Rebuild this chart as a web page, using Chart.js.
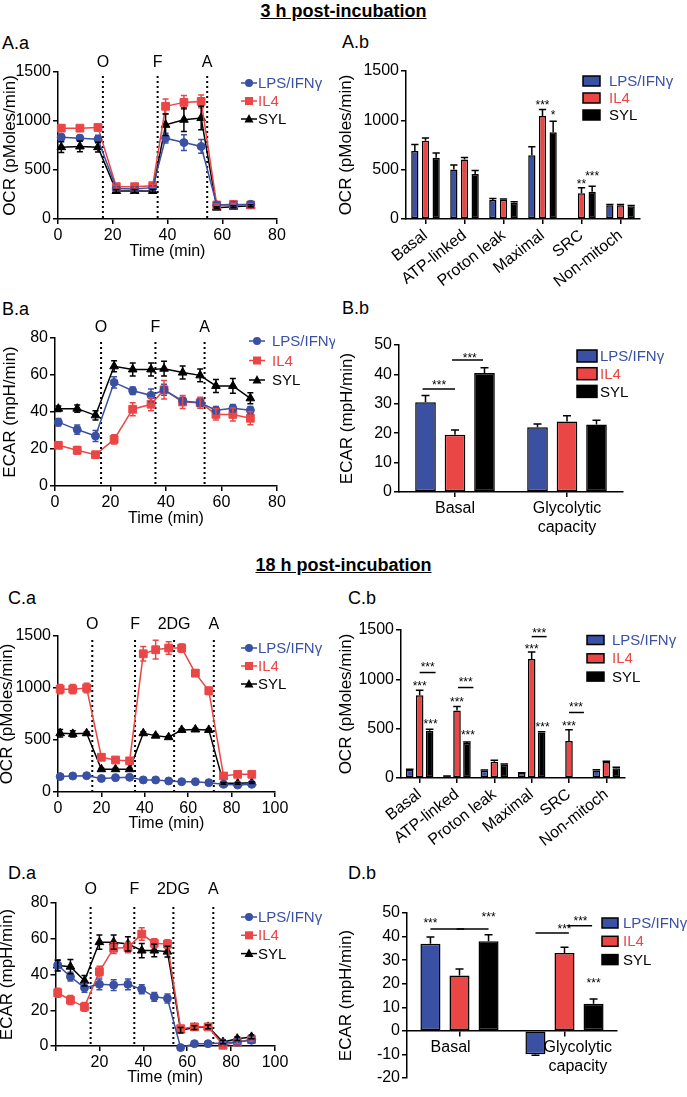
<!DOCTYPE html>
<html>
<head>
<meta charset="utf-8">
<script src="https://cdn.jsdelivr.net/npm/chart.js@4.4.1/dist/chart.umd.min.js"></script>
<style>
  body { margin: 0; background: #fff; }
  #fig { position: relative; width: 687px; height: 1097px; overflow: hidden; font-family: 'Liberation Sans', Arial, sans-serif; color: #000; }
  #fig canvas { position: absolute; }
  .head { position: absolute; left: 0; width: 687px; text-align: center; font-weight: bold; font-size: 18px; line-height: 21px; text-decoration: underline; }
  .lab { position: absolute; font-size: 18px; line-height: 20px; }
</style>
</head>
<body>
<div id="fig">
  <div class="head" style="top:1px">3 h post-incubation</div>
  <div class="head" style="top:555px">18 h post-incubation</div>
  <div class="lab" style="left:2px;top:33px">A.a</div>
  <div class="lab" style="left:342px;top:32px">A.b</div>
  <div class="lab" style="left:2px;top:299px">B.a</div>
  <div class="lab" style="left:342px;top:298px">B.b</div>
  <div class="lab" style="left:8px;top:588px">C.a</div>
  <div class="lab" style="left:348px;top:588px">C.b</div>
  <div class="lab" style="left:8px;top:863px">D.a</div>
  <div class="lab" style="left:348px;top:863px">D.b</div>
  <canvas id="aa"></canvas>
  <canvas id="ab"></canvas>
  <canvas id="ba"></canvas>
  <canvas id="bb"></canvas>
  <canvas id="ca"></canvas>
  <canvas id="cb"></canvas>
  <canvas id="da"></canvas>
  <canvas id="db"></canvas>
</div>
<script>
const BLUE = '#3a50a3', RED = '#eb4646', BLACK = '#000000';
const FONT = "'Liberation Sans', Arial, sans-serif";
const groups = ['LPS/IFNγ', 'IL4', 'SYL'];
const groupText = [BLUE, RED, BLACK];

// ---- 3 h: kinetics (A.a OCR, B.a ECAR)
const time3h = [1.2, 8, 14.6, 21.3, 28, 34.6, 39.3, 46, 52.3, 58, 64.1, 70.4];
const injA = [16.4, 36.4, 54.5];
const injB = [16.6, 36.2, 53.9];
const injLabels3h = ['O', 'F', 'A'];

const ocr3hLps = [835, 825, 815, 310, 305, 320, 825, 780, 740, 143, 143, 150];
const ocr3hIl4 = [927, 927, 934, 330, 330, 340, 1150, 1190, 1200, 143, 150, 143];
const ocr3hSyl = [733, 740, 733, 286, 286, 286, 961, 1013, 1030, 116, 126, 136];
const ocr3hLpsErr = [30, 30, 40, 15, 15, 15, 50, 80, 70, 10, 10, 10];
const ocr3hIl4Err = [30, 25, 25, 15, 15, 15, 75, 70, 65, 10, 10, 10];
const ocr3hSylErr = [55, 55, 50, 15, 15, 15, 110, 120, 120, 10, 10, 10];

const ecar3hLps = [34.5, 30.5, 27, 56, 51.5, 49, 52, 46, 45, 41, 42, 41];
const ecar3hIl4 = [22, 19.3, 16.9, 25.2, 41.5, 44.2, 52, 45.4, 45, 38.7, 38.7, 36.6];
const ecar3hSyl = [41.8, 41.8, 38.2, 64.7, 63, 63, 63.4, 61.3, 59.8, 54.1, 54.1, 47.4];
const ecar3hLpsErr = [2, 2.5, 3, 3, 2, 3.5, 3, 2, 2, 2, 2, 2];
const ecar3hIl4Err = [1.5, 2, 1.5, 2.5, 3.5, 3.5, 5, 3.5, 3, 3, 3.5, 3.5];
const ecar3hSylErr = [1.5, 2, 2.5, 3, 3.5, 3.5, 4, 3.5, 3.5, 3.5, 4, 3];

// ---- 3 h: summaries (A.b OCR, B.b ECAR)
const ocrCats = ['Basal', 'ATP-linked', 'Proton leak', 'Maximal', 'SRC', 'Non-mitoch'];
const ocrBar3hLps = [690, 502, 192, 647, 3, 140];
const ocrBar3hIl4 = [792, 603, 195, 1045, 260, 140];
const ocrBar3hSyl = [620, 455, 165, 880, 275, 130];
const ocrBar3hLpsErr = [65, 45, 17, 85, 0, 7];
const ocrBar3hIl4Err = [30, 20, 7, 65, 57, 8];
const ocrBar3hSylErr = [50, 37, 10, 110, 57, 7];
const ocrBar3hStars = [[3, 1, 1186, '***'], [3, 2, 1085, '*'], [4, 1, 388, '**'], [4, 2, 469, '***']];

const ecarCats3h = ['Basal', ['Glycolytic', 'capacity']];
const ecarBar3hLps = [30.5, 22];
const ecarBar3hIl4 = [19.5, 24];
const ecarBar3hSyl = [40.5, 23];
const ecarBar3hLpsErr = [2.3, 1.1];
const ecarBar3hIl4Err = [1.6, 1.9];
const ecarBar3hSylErr = [1.8, 1.4];
const ecarBar3hLines = [[0, -0.1, 1, 35], [0, 0.9, 1.95, 44.9]];
const ecarBar3hStars = [[0, 0.46, 37.5, '***'], [0, 1.5, 46.6, '***']];

// ---- 18 h: kinetics (C.a OCR, D.a ECAR)
const time18h = [1, 6.8, 13.2, 20, 26.5, 33, 39.3, 45, 51, 57, 63.3, 69.5, 76.3, 82.8, 89.3];
const injC = [15.8, 35.5, 53.5, 71.8];
const injD = [16.0, 35.9, 53.7, 71.9];
const injLabels18h = ['O', 'F', '2DG', 'A'];

const ocr18hLps = [148, 154, 157, 130, 138, 141, 116, 116, 106, 99, 99, 90, 74, 67, 74];
const ocr18hIl4 = [989, 989, 1000, 334, 308, 299, 1329, 1368, 1384, 1384, 1143, 973, 154, 170, 170];
const ocr18hSyl = [565, 559, 565, 219, 219, 219, 565, 542, 527, 597, 601, 597, 83, 83, 90];
const ocr18hLpsErr = [8, 8, 8, 8, 8, 8, 8, 8, 8, 8, 8, 8, 8, 8, 8];
const ocr18hIl4Err = [45, 45, 45, 15, 10, 10, 70, 90, 60, 40, 30, 35, 8, 8, 8];
const ocr18hSylErr = [35, 30, 15, 10, 10, 10, 15, 10, 10, 10, 10, 10, 8, 8, 8];

const ecar18hLps = [45.3, 38.8, 32.6, 34.5, 34.1, 34.5, 31.7, 27.5, 26.6, -0.9, 1.3, 1.3, 1.7, 2.2, 3.2];
const ecar18hIl4 = [29.8, 25.7, 21.9, 41.6, 54.7, 55.1, 62.6, 57.5, 57.0, 9.7, 10.7, 10.7, 0.4, 2.2, 3.6];
const ecar18hSyl = [45, 44.4, 36.5, 58.1, 58.1, 57.1, 53.4, 53.4, 52.8, 8.8, 10.3, 10.7, 2.2, 4.1, 5.1];
const ecar18hLpsErr = [3, 2.5, 2.5, 3, 3, 3, 2.5, 2.5, 2.5, 1, 1, 1, 1, 1, 1];
const ecar18hIl4Err = [2.5, 2.5, 2.5, 3, 3, 3, 3.5, 2.5, 2.5, 1.5, 1, 1, 1, 1, 1];
const ecar18hSylErr = [3, 4, 3, 4, 4, 4, 4, 3.5, 3, 1.5, 1, 1, 1, 1, 1];

// ---- 18 h: summaries (C.b OCR, D.b ECAR)
const ocrBar18hLps = [84, 17, 74, 50, 0, 77];
const ocrBar18hIl4 = [839, 684, 165, 1207, 374, 162];
const ocrBar18hSyl = [479, 354, 135, 462, 3, 100];
const ocrBar18hLpsErr = [5, 3, 6, 4, 0, 6];
const ocrBar18hIl4Err = [50, 40, 15, 70, 115, 8];
const ocrBar18hSylErr = [15, 12, 6, 8, 0, 10];
const ocrBar18hLines = [[0, 1, 2.6, 1069], [1, 1.1, 2.65, 917], [3, 1, 2.5, 1433], [4, 1, 2.5, 664]];
const ocrBar18hStars = [
  [0, 1, 967, '***'], [0, 2.1, 573, '***'], [0, 1.8, 1156, '***'],
  [1, 1, 799, '***'], [1, 2.1, 462, '***'], [1, 1.87, 1005, '***'],
  [3, 1, 1338, '***'], [3, 2.1, 549, '***'], [3, 1.75, 1500, '***'],
  [4, 1, 556, '***'], [4, 1.7, 748, '***']
];

const ecarCats18h = ['Basal    ', ['      Glycolytic', '      capacity']];
const ecarBar18hLps = [37, -9.9];
const ecarBar18hIl4 = [23.5, 33];
const ecarBar18hSyl = [38, 11.5];
const ecarBar18hLpsErr = [2.8, 0.5];
const ecarBar18hIl4Err = [2.7, 2.5];
const ecarBar18hSylErr = [2.8, 2];
const ecarBar18hLines = [[0, 0, 1.16, 43.2], [0, 0.9, 2, 43.2], [1, 0, 1.15, 41.5], [1, 1.1, 1.95, 44.6]];
const ecarBar18hStars = [[0, 0, 47.2, '***'], [0, 2, 49.7, '***'], [1, 1, 44.6, '***'], [1, 1.55, 47.9, '***'], [1, 2, 21.7, '***']];

Chart.defaults.font.family = FONT;
Chart.defaults.font.size = 16;
Chart.defaults.color = '#000';

function marker(ctx, style, x, y, color) {
  ctx.fillStyle = color;
  ctx.beginPath();
  if (style === 'circle') ctx.arc(x, y, 4, 0, Math.PI * 2);
  else if (style === 'rect') ctx.rect(x - 4, y - 4, 8, 8);
  else { ctx.moveTo(x, y - 5); ctx.lineTo(x + 4.5, y + 3.5); ctx.lineTo(x - 4.5, y + 3.5); ctx.closePath(); }
  ctx.fill();
}

// x of a (fractional) dataset slot inside one category of a bar chart
function slotX(chart, cat, ds) {
  const x0 = chart.getDatasetMeta(0).data[cat].x;
  const x1 = chart.getDatasetMeta(1).data[cat].x;
  return x0 + (x1 - x0) * ds;
}

const decor = {
  id: 'decor',
  beforeDatasetsDraw(chart, args, o) {
    if (!o.inject) return;
    const {ctx, chartArea: a, scales: {x}} = chart;
    ctx.save();
    ctx.strokeStyle = '#000';
    ctx.lineWidth = 2;
    ctx.setLineDash([2, 3]);
    ctx.fillStyle = '#000';
    ctx.font = '16px ' + FONT;
    ctx.textAlign = 'center';
    ctx.textBaseline = 'middle';
    o.inject.times.forEach((t, i) => {
      const px = x.getPixelForValue(t);
      ctx.beginPath();
      ctx.moveTo(px, a.top + 4);
      ctx.lineTo(px, a.bottom);
      ctx.stroke();
      ctx.fillText(o.inject.labels[i], px, a.top - o.inject.gap);
    });
    ctx.restore();
  },
  afterDatasetsDraw(chart, args, o) {
    const {ctx, scales: {y}} = chart;
    const isBar = chart.config.type === 'bar';
    ctx.save();
    ctx.lineWidth = 1.5;
    chart.data.datasets.forEach((ds, di) => {
      if (!ds.errors) return;
      const meta = chart.getDatasetMeta(di);
      ctx.strokeStyle = isBar ? '#000' : ds.borderColor;
      meta.data.forEach((el, i) => {
        const e = ds.errors[i];
        if (!e) return;
        const v = isBar ? ds.data[i] : ds.data[i].y;
        const sgn = v < 0 ? -1 : 1;
        const y1 = y.getPixelForValue(v + sgn * e);
        const y0 = isBar ? el.y : y.getPixelForValue(v - e);
        const cap = isBar ? Math.min(el.width / 2, 4) : 3;
        ctx.beginPath();
        ctx.moveTo(el.x, y0); ctx.lineTo(el.x, y1);
        ctx.moveTo(el.x - cap, y1); ctx.lineTo(el.x + cap, y1);
        if (!isBar) { ctx.moveTo(el.x - cap, y0); ctx.lineTo(el.x + cap, y0); }
        ctx.stroke();
      });
    });
    ctx.strokeStyle = '#000';
    ctx.fillStyle = '#000';
    (o.lines || []).forEach(([cat, a, b, v]) => {
      const py = y.getPixelForValue(v);
      ctx.beginPath();
      ctx.moveTo(slotX(chart, cat, a), py);
      ctx.lineTo(slotX(chart, cat, b), py);
      ctx.stroke();
    });
    ctx.font = '12px ' + FONT;
    ctx.textAlign = 'center';
    ctx.textBaseline = 'alphabetic';
    (o.stars || []).forEach(([cat, ds, v, txt]) => {
      ctx.fillText(txt, slotX(chart, cat, ds), y.getPixelForValue(v) + 7);
    });
    ctx.restore();
  },
  afterDraw(chart, args, o) {
    const L = o.legend;
    if (!L) return;
    const {ctx} = chart;
    const [ox, oy] = o.origin;
    ctx.save();
    ctx.font = '15px ' + FONT;
    ctx.textAlign = 'left';
    ctx.textBaseline = 'middle';
    chart.data.datasets.forEach((ds, i) => {
      const yy = L.y + i * L.dy - oy, xx = L.x - ox;
      if (L.kind === 'line') {
        ctx.strokeStyle = ds.borderColor;
        ctx.lineWidth = 1.5;
        ctx.beginPath(); ctx.moveTo(xx, yy); ctx.lineTo(xx + 16, yy); ctx.stroke();
        marker(ctx, ds.pointStyle, xx + 8, yy, ds.borderColor);
      } else {
        ctx.fillStyle = ds.backgroundColor;
        ctx.fillRect(xx, yy - L.h / 2, L.w, L.h);
        ctx.strokeStyle = '#000';
        ctx.lineWidth = 1.5;
        ctx.strokeRect(xx, yy - L.h / 2, L.w, L.h);
      }
      ctx.fillStyle = groupText[i];
      ctx.fillText(ds.label, xx + L.tx, yy + 1);
    });
    ctx.restore();
  }
};

const gridCfg = () => ({display: true, drawOnChartArea: false, color: '#000', lineWidth: 1.5, tickLength: 5});
const borderCfg = () => ({display: true, color: '#000', width: 1.5});

function yAxis(min, max, step, text) {
  return {
    min, max,
    ticks: {stepSize: step, padding: 2, font: {size: 16}, callback: v => String(v)},
    grid: gridCfg(), border: borderCfg(),
    title: {display: true, text, font: {size: 17}, padding: 0}
  };
}

function build(id, box, area, config) {
  const cv = document.getElementById(id);
  const [bl, bt, bw, bh] = box;
  const [al, at, ar, ab] = area;
  cv.width = bw; cv.height = bh;
  cv.style.left = bl + 'px'; cv.style.top = bt + 'px';
  cv.style.width = bw + 'px'; cv.style.height = bh + 'px';
  const o = config.options;
  o.responsive = false;
  o.animation = false;
  o.devicePixelRatio = 1;
  const floatingX = typeof o.scales.x.position === 'object';
  o.layout = {padding: {left: 0, top: at - bt, right: bl + bw - ar, bottom: floatingX ? bt + bh - ab : 0}};
  o.scales.y.afterFit = s => { s.width = al - bl; };
  if (!floatingX) o.scales.x.afterFit = s => { s.height = bt + bh - ab; };
  o.plugins.legend = {display: false};
  o.plugins.tooltip = {enabled: false};
  o.plugins.decor.origin = [bl, bt];
  config.plugins = [decor];
  return new Chart(cv, config);
}

function lineChart(id, box, area, p) {
  const styles = ['circle', 'rect', 'triangle'];
  const colors = [BLUE, RED, BLACK];
  return build(id, box, area, {
    type: 'line',
    data: {
      datasets: p.series.map((s, k) => ({
        label: groups[k],
        data: p.times.map((t, i) => ({x: t, y: s[0][i]})),
        errors: s[1],
        borderColor: colors[k], backgroundColor: colors[k],
        pointStyle: styles[k],
        pointRadius: k === 1 ? 5.5 : (k === 2 ? 5 : 4),
        pointBorderWidth: 1, borderWidth: 1.5, clip: false
      }))
    },
    options: {
      scales: {
        x: {
          type: 'linear', min: 0, max: p.xmax,
          ticks: {stepSize: 20, padding: 2, font: {size: 16}, callback: v => (p.hideZero && v === 0) ? '' : String(v)},
          grid: gridCfg(), border: borderCfg(),
          title: {display: true, text: 'Time (min)', font: {size: 16}, padding: 0}
        },
        y: p.y
      },
      plugins: {decor: {inject: p.inject, legend: p.legend}}
    }
  });
}

function barChart(id, box, area, p) {
  const colors = [BLUE, RED, BLACK];
  const x = {
    type: 'category',
    ticks: {font: {size: 16}, padding: 2, autoSkip: false, minRotation: p.rot, maxRotation: p.rot},
    grid: Object.assign(gridCfg(), {offset: false}), border: borderCfg()
  };
  if (p.xPos) x.position = p.xPos;
  return build(id, box, area, {
    type: 'bar',
    data: {
      labels: p.cats,
      datasets: p.series.map((s, k) => ({
        label: groups[k], data: s[0], errors: s[1],
        backgroundColor: colors[k], borderColor: '#000', borderWidth: 1.5, borderSkipped: false,
        categoryPercentage: p.pct[0], barPercentage: p.pct[1]
      }))
    },
    options: {
      scales: {x, y: p.y},
      plugins: {decor: {legend: p.legend, lines: p.lines, stars: p.stars}}
    }
  });
}

// A.a
lineChart('aa', [0, 50, 335, 211], [58, 72, 277, 219], {
  times: time3h, xmax: 80,
  series: [[ocr3hLps, ocr3hLpsErr], [ocr3hIl4, ocr3hIl4Err], [ocr3hSyl, ocr3hSylErr]],
  y: yAxis(0, 1500, 500, 'OCR (pMoles/min)'),
  inject: {times: injA, labels: injLabels3h, gap: 9},
  legend: {kind: 'line', x: 241, y: 83, dy: 18, tx: 17}
});

// A.b
barChart('ab', [336, 50, 351, 240], [406, 71, 640, 219], {
  cats: ocrCats, rot: 38, pct: [0.82, 0.68],
  series: [[ocrBar3hLps, ocrBar3hLpsErr], [ocrBar3hIl4, ocrBar3hIl4Err], [ocrBar3hSyl, ocrBar3hSylErr]],
  y: yAxis(0, 1500, 500, 'OCR (pMoles/min)'),
  stars: ocrBar3hStars,
  legend: {kind: 'box', x: 583, y: 81, dy: 17, w: 17, h: 10, tx: 26}
});

// B.a
lineChart('ba', [0, 315, 335, 213], [55, 338, 277, 486], {
  times: time3h, xmax: 80,
  series: [[ecar3hLps, ecar3hLpsErr], [ecar3hIl4, ecar3hIl4Err], [ecar3hSyl, ecar3hSylErr]],
  y: yAxis(0, 80, 20, 'ECAR (mpH/min)'),
  inject: {times: injB, labels: injLabels3h, gap: 10},
  legend: {kind: 'line', x: 249, y: 341, dy: 19.5, tx: 23}
});

// B.b
barChart('bb', [337, 330, 350, 212], [399, 345, 623, 492], {
  cats: ecarCats3h, rot: 0, pct: [0.79, 0.7],
  series: [[ecarBar3hLps, ecarBar3hLpsErr], [ecarBar3hIl4, ecarBar3hIl4Err], [ecarBar3hSyl, ecarBar3hSylErr]],
  y: yAxis(0, 50, 10, 'ECAR (mpH/min)'),
  lines: ecarBar3hLines, stars: ecarBar3hStars,
  legend: {kind: 'box', x: 577, y: 356, dy: 17.7, w: 20, h: 12, tx: 23}
});

// C.a
lineChart('ca', [-3, 610, 338, 223], [58, 636, 275, 792], {
  times: time18h, xmax: 100,
  series: [[ocr18hLps, ocr18hLpsErr], [ocr18hIl4, ocr18hIl4Err], [ocr18hSyl, ocr18hSylErr]],
  y: yAxis(0, 1500, 500, 'OCR (pMoles/min)'),
  inject: {times: injC, labels: injLabels18h, gap: 11},
  legend: {kind: 'line', x: 241, y: 648, dy: 18, tx: 17}
});

// C.b
barChart('cb', [336, 600, 351, 255], [401, 630, 625, 778], {
  cats: ocrCats, rot: 38, pct: [0.8, 0.76],
  series: [[ocrBar18hLps, ocrBar18hLpsErr], [ocrBar18hIl4, ocrBar18hIl4Err], [ocrBar18hSyl, ocrBar18hSylErr]],
  y: yAxis(0, 1500, 500, 'OCR (pMoles/min)'),
  lines: ocrBar18hLines, stars: ocrBar18hStars,
  legend: {kind: 'box', x: 587, y: 640, dy: 18.3, w: 17, h: 9, tx: 25}
});

// D.a
lineChart('da', [-3, 878, 338, 209], [55.5, 903, 275, 1046], {
  times: time18h, xmax: 100, hideZero: true,
  series: [[ecar18hLps, ecar18hLpsErr], [ecar18hIl4, ecar18hIl4Err], [ecar18hSyl, ecar18hSylErr]],
  y: yAxis(0, 80, 20, 'ECAR (mpH/min)'),
  inject: {times: injD, labels: injLabels18h, gap: 13},
  legend: {kind: 'line', x: 241, y: 917, dy: 18.3, tx: 17}
});

// D.b
barChart('db', [336, 895, 351, 195], [407, 913, 617, 1078], {
  cats: ecarCats18h, rot: 0, pct: [0.83, 0.69], xPos: {y: 0},
  series: [[ecarBar18hLps, ecarBar18hLpsErr], [ecarBar18hIl4, ecarBar18hIl4Err], [ecarBar18hSyl, ecarBar18hSylErr]],
  y: yAxis(-20, 50, 10, 'ECAR (mpH/min)'),
  lines: ecarBar18hLines, stars: ecarBar18hStars,
  legend: {kind: 'box', x: 602, y: 923, dy: 18.3, w: 16, h: 10, tx: 21}
});
</script>
</body>
</html>
